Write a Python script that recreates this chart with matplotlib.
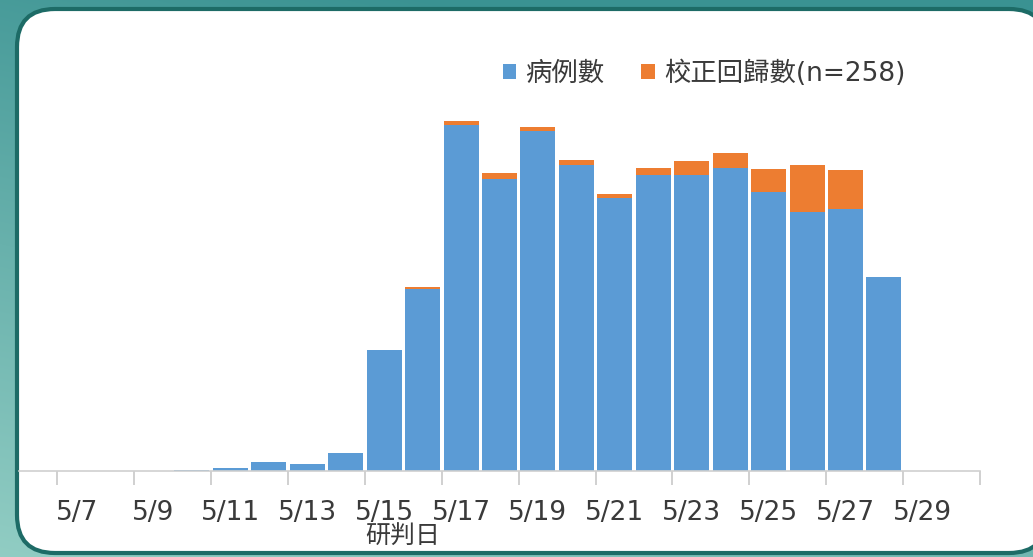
import numpy as np
import matplotlib
matplotlib.use("Agg")
import matplotlib.pyplot as plt
from matplotlib.patches import FancyBboxPatch, Patch

plt.rcParams['font.family'] = ['DejaVu Sans', 'Noto Sans CJK TC']

# ---- data ----
dates = ['5/7', '5/8', '5/9', '5/10', '5/11', '5/12', '5/13', '5/14', '5/15', '5/16',
         '5/17', '5/18', '5/19', '5/20', '5/21', '5/22', '5/23', '5/24', '5/25', '5/26',
         '5/27', '5/28']
cases = [0, 0, 0, 1, 5, 14, 11, 27, 185, 278,
         528, 445, 518, 467, 416, 451, 451, 462, 425, 395,
         400, 296]
backlog = [0, 0, 0, 0, 0, 0, 0, 0, 0, 3,
           5, 9, 7, 7, 7, 11, 22, 22, 35, 71,
           59, 0]
tick_labels = ['5/7', '5/9', '5/11', '5/13', '5/15', '5/17', '5/19', '5/21',
               '5/23', '5/25', '5/27', '5/29']
legend_labels = ['病例數', '校正回歸數(n=258)']
xlabel = '研判日'

BLUE = '#5b9bd5'
ORANGE = '#ed7d31'
TXT = '#3a3a3a'

W, H = 1033, 557
fig = plt.figure(figsize=(W / 100, H / 100), dpi=100)

# ---- background ----
bg = fig.add_axes([0, 0, 1, 1])
yy, xx = np.mgrid[0:H, 0:W]
t = np.clip((yy / H) * 0.8 + (1 - xx / W) * 0.35 - 0.2, 0, 1)
top = np.array([58, 146, 146]) / 255
low = np.array([150, 208, 198]) / 255
img = top[None, None, :] * (1 - t[..., None]) + low[None, None, :] * t[..., None]
bg.imshow(img, extent=(0, W, H, 0), aspect='auto')
bg.set_xlim(0, W)
bg.set_ylim(H, 0)
bg.axis('off')
panel = FancyBboxPatch((17, 9), 1030, 544,
                       boxstyle='round,pad=0,rounding_size=38',
                       facecolor='white', edgecolor='#1d6b66', linewidth=3)
bg.add_patch(panel)

# ---- chart ----
ax = fig.add_axes([19 / W, 86 / H, (980 - 19) / W, (471 - 40) / H])
ax.patch.set_alpha(0)
x = np.arange(len(dates))
ax.bar(x, cases, width=0.91, color=BLUE, linewidth=0)
ax.bar(x, backlog, bottom=cases, width=0.91, color=ORANGE, linewidth=0)

ax.set_xlim(-1.5, 23.5)
ax.set_ylim(0, 657)
for s in ['top', 'right', 'left']:
    ax.spines[s].set_visible(False)
ax.spines['bottom'].set_color('#d0d0d0')
ax.spines['bottom'].set_linewidth(1.2)
ax.set_yticks([])

ax.set_xticks(np.arange(-0.5, 24, 2))
ax.set_xticklabels([])
ax.tick_params(axis='x', which='major', length=10, width=1.2, color='#c8c8c8', direction='out')
ax.set_xticks(np.arange(0, 2 * len(tick_labels), 2), minor=True)
ax.set_xticklabels(tick_labels, minor=True)
ax.tick_params(axis='x', which='minor', length=0, pad=21, labelsize=19, labelcolor=TXT)

fig.text(403 / W, 1 - 537 / H, xlabel, ha='center', va='center', fontsize=18, color=TXT,
         family=['Noto Sans CJK TC', 'DejaVu Sans'])

handles = [Patch(facecolor=BLUE, edgecolor='none'), Patch(facecolor=ORANGE, edgecolor='none')]
fig.legend(handles, legend_labels, loc='center', bbox_to_anchor=(704 / W, 1 - 74 / H),
           ncol=2, frameon=False, fontsize=19, handlelength=0.5, handleheight=0.5,
           handletextpad=0.35, columnspacing=1.4, labelcolor=TXT)

fig.savefig('out.png', dpi=100)
